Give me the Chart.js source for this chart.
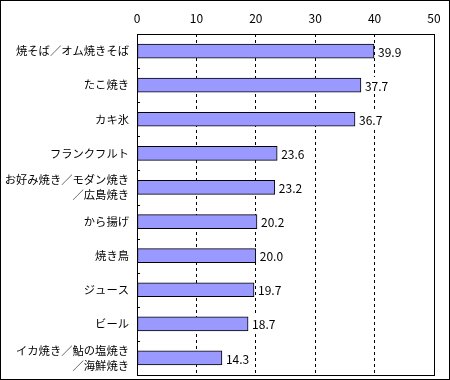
<!DOCTYPE html>
<html>
<head>
<meta charset="utf-8">
<script src="https://cdn.jsdelivr.net/npm/chart.js@4"></script>
<style>
  html, body { margin: 0; padding: 0; background: #fff; }
  .frame { width: 450px; height: 380px; box-sizing: border-box; border: 1px solid #000; background: #fff; }
  .frame canvas { display: block; }
</style>
</head>
<body>
<div class="frame">
  <canvas id="chart" width="448" height="378"></canvas>
</div>
<script>
// 屋台の人気メニュー (%)
const categories = [
  '焼そば／オム焼きそば',
  'たこ焼き',
  'カキ氷',
  'フランクフルト',
  ['お好み焼き／モダン焼き', '／広島焼き'],
  'から揚げ',
  '焼き鳥',
  'ジュース',
  'ビール',
  ['イカ焼き／鮎の塩焼き', '／海鮮焼き']
];
const values = [39.9, 37.7, 36.7, 23.6, 23.2, 20.2, 20.0, 19.7, 18.7, 14.3];
const xTicks = [0, 10, 20, 30, 40, 50];

const FONT = '"Noto Sans CJK JP", "Noto Sans", sans-serif';

// plot frame + little category ticks on the left edge
const framePlugin = {
  id: 'frame',
  afterDraw(chart) {
    const { ctx, chartArea: a, scales } = chart;
    ctx.save();
    ctx.strokeStyle = '#000';
    ctx.lineWidth = 1;
    ctx.strokeRect(Math.round(a.left) + 0.5, Math.round(a.top) + 0.5,
      Math.round(a.right - a.left), Math.round(a.bottom - a.top));
    const y = scales.y;
    ctx.beginPath();
    for (let i = 1; i < categories.length; i++) {
      const py = Math.round((y.getPixelForValue(i - 1) + y.getPixelForValue(i)) / 2) + 0.5;
      ctx.moveTo(a.left, py);
      ctx.lineTo(a.left + 3, py);
    }
    ctx.stroke();
    ctx.restore();
  }
};

// value labels (white box behind) to the right of each bar
const valueLabels = {
  id: 'valueLabels',
  afterDatasetsDraw(chart) {
    const { ctx } = chart;
    const meta = chart.getDatasetMeta(0);
    ctx.save();
    ctx.font = '12px ' + FONT;
    ctx.textAlign = 'left';
    ctx.textBaseline = 'middle';
    meta.data.forEach((bar, i) => {
      const txt = values[i].toFixed(1);
      const w = ctx.measureText(txt).width;
      ctx.fillStyle = '#fff';
      ctx.fillRect(Math.round(bar.x) + 2, Math.round(bar.y) - 8, w + 4, 17);
      ctx.fillStyle = '#000';
      ctx.fillText(txt, bar.x + 4, bar.y + 1);
    });
    ctx.restore();
  }
};

new Chart(document.getElementById('chart'), {
  type: 'bar',
  data: {
    labels: categories,
    datasets: [{
      data: values,
      backgroundColor: '#9999FF',
      borderColor: '#000',
      borderWidth: 1,
      borderSkipped: false,
      barThickness: 14
    }]
  },
  options: {
    indexAxis: 'y',
    responsive: false,
    animation: false,
    layout: { padding: { left: 0, top: 0, right: 15, bottom: 4 } },
    plugins: {
      legend: { display: false },
      tooltip: { enabled: false }
    },
    scales: {
      x: {
        position: 'top',
        min: 0,
        max: 50,
        afterFit: (s) => { s.height = 33; },
        afterBuildTicks: (s) => { s.ticks = xTicks.map(v => ({ value: v })); },
        ticks: { color: '#000', font: { family: FONT, size: 12 }, padding: 8 },
        grid: {
          drawTicks: false,
          color: (c) => (c.tick && c.tick.value > 0 && c.tick.value < 50) ? '#000' : 'rgba(0,0,0,0)'
        },
        border: { display: false, dash: [3, 3] }
      },
      y: {
        afterFit: (s) => {
          s.width = 136;
          s.paddingTop = 0;
          s.paddingBottom = 0;
        },
        ticks: {
          color: '#000',
          font: { family: FONT, size: 11.3, lineHeight: 1.3 },
          padding: 8,
          autoSkip: false
        },
        grid: { display: false, drawTicks: false },
        border: { display: false }
      }
    }
  },
  plugins: [framePlugin, valueLabels]
});
</script>
</body>
</html>
